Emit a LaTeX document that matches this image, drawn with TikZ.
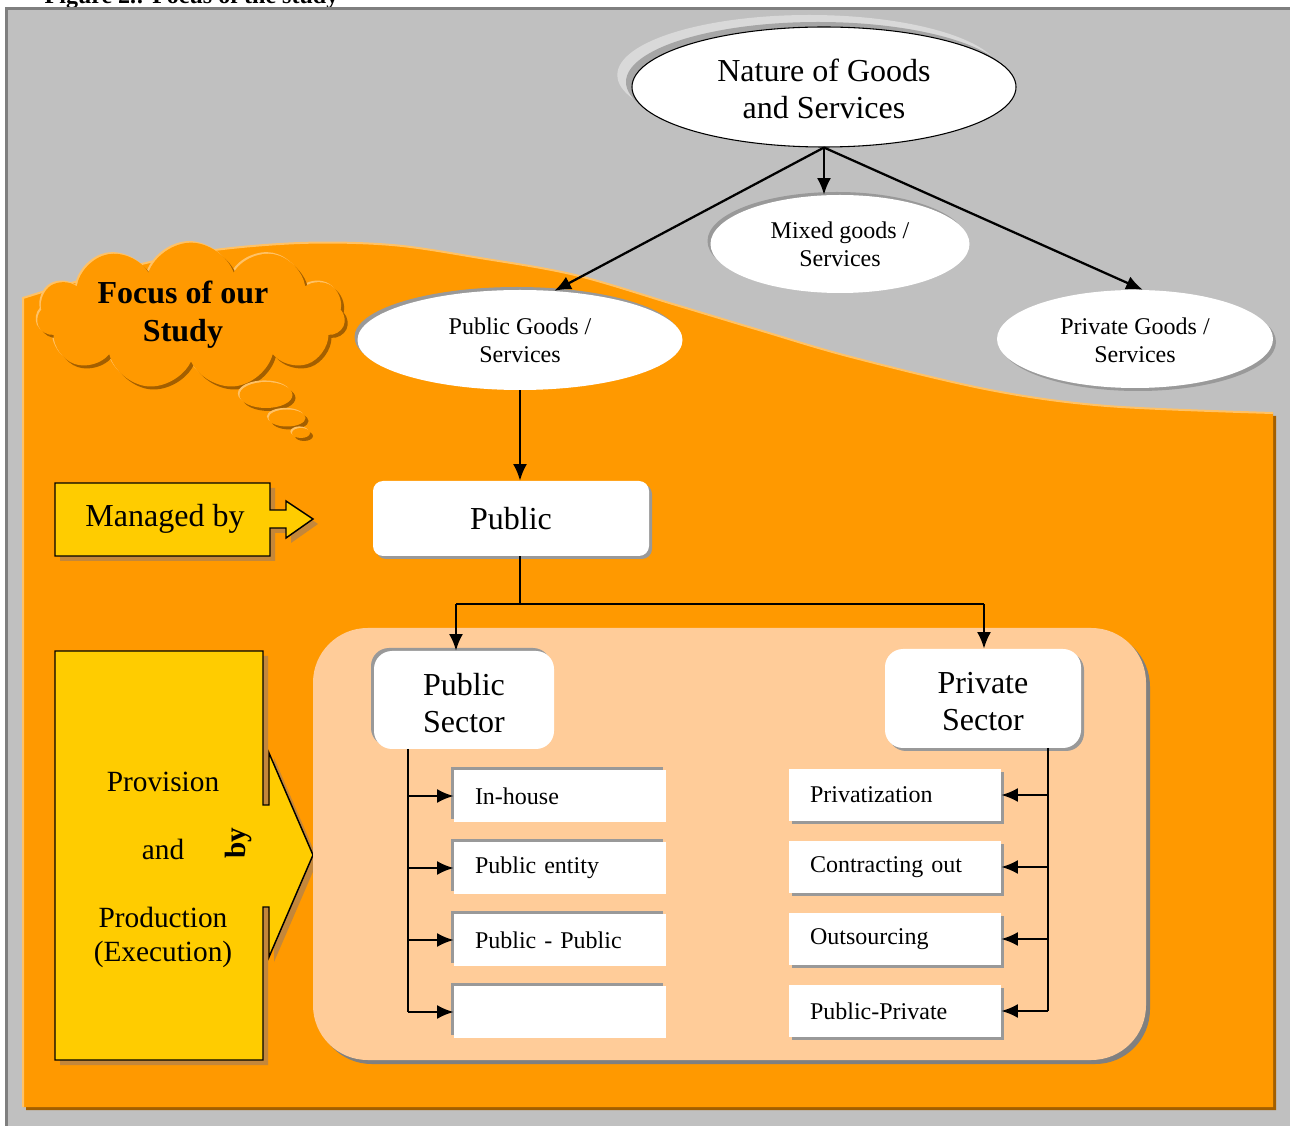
\documentclass[tikz,border=0pt]{standalone}
\usepackage{fontspec}
\setmainfont{Liberation Serif}
\usetikzlibrary{shapes.geometric,shapes.symbols,arrows.meta,shadows}

\definecolor{bggray}{HTML}{C0C0C0}
\definecolor{framegray}{HTML}{7F7F7F}
\definecolor{orangebg}{HTML}{FF9900}
\definecolor{orangehi}{HTML}{FFC266}
\definecolor{orangesh}{HTML}{A35F00}
\definecolor{yellowbox}{HTML}{FFCC00}
\definecolor{tanshadow}{HTML}{C4873A}
\definecolor{peach}{HTML}{FFCC99}
\definecolor{boxshadow}{HTML}{999999}
\definecolor{panelshadow}{HTML}{808080}
\definecolor{haze}{HTML}{D9D9D9}
\definecolor{hazedark}{HTML}{A6A6A6}

% two centred lines, lowered by #1 without changing the box size
\newcommand{\lowstack}[3]{\raisebox{#1}[\height][\depth]{\parbox{#2}{\centering #3}}}

\begin{document}
\begin{tikzpicture}[x=0.75pt, y=-0.75pt,
  conn/.style={line width=1.7pt, -{Latex[length=12.5pt,width=10.5pt]}},
  wire/.style={line width=1.7pt},
  ell/.style={ellipse, fill=white, inner sep=0pt, align=center},
  txtL/.style={font=\fontsize{24}{27.75}\selectfont},
  txtM/.style={font=\fontsize{18}{21}\selectfont},
  tlshadow/.style={general shadow={shadow xshift=-2.25pt, shadow yshift=2.25pt, fill=boxshadow}},
  rbshadow/.style={general shadow={shadow xshift=2.25pt, shadow yshift=-2.25pt, fill=boxshadow}},
  emboss/.style={general shadow={shadow xshift=-1.2pt, shadow yshift=1.2pt, fill=orangehi},
                 general shadow={shadow xshift=2.25pt, shadow yshift=-2.25pt, fill=orangesh},
                 fill=orangebg},
  sectorbox/.style={rectangle, rounded corners=13.5pt, fill=white, inner sep=0pt, align=center, txtL},
  itembox/.style={rectangle, fill=white, minimum width=159pt, minimum height=39pt,
                  inner xsep=15.75pt, inner ysep=0pt, text width=127.5pt, align=left, txtM},
  callout/.style={fill=yellowbox, draw=black, line width=1.1pt, line join=miter},
]

\useasboundingbox (0,0) rectangle (1290,1126);

% caption above the frame
\node[anchor=base west, font=\bfseries\fontsize{18}{21}\selectfont] (caption) at (40,4) {Figure 2.: Focus of the study};

% grey frame
\draw[fill=bggray, draw=framegray, line width=2.25pt] (6,9) rectangle (1294,1150);

% orange field: shadow, body, light rim
\fill[orangesh, shift={(3,3)}] plot[smooth, tension=0.55] coordinates {(23,298) (110,272) (200,252) (300,243) (392,245) (480,258) (575,275) (676,305) (759,330) (851,357) (990,390) (1107,406) (1273,413)} -- (1273,1107) -- (23,1107) -- cycle;
\fill[orangebg] plot[smooth, tension=0.55] coordinates {(23,298) (110,272) (200,252) (300,243) (392,245) (480,258) (575,275) (676,305) (759,330) (851,357) (990,390) (1107,406) (1273,413)} -- (1273,1107) -- (23,1107) -- cycle;
\draw[orangehi, line width=1.5pt] (23,1107) -- plot[smooth, tension=0.55] coordinates {(23,298) (110,272) (200,252) (300,243) (392,245) (480,258) (575,275) (676,305) (759,330) (851,357) (990,390) (1107,406) (1273,413)};

% thought cloud
\node[cloud, cloud puffs=11, cloud puff arc=140, cloud ignores aspect, minimum width=231pt, minimum height=110pt, emboss] (cloud) at (191,316) {};
\node[ellipse, minimum width=39.75pt, minimum height=19.5pt, inner sep=0pt, emboss] (bubA) at (266,395) {};
\node[ellipse, minimum width=27.75pt, minimum height=12.75pt, inner sep=0pt, emboss] (bubB) at (287,418) {};
\node[ellipse, minimum width=13.5pt, minimum height=7.5pt, inner sep=0pt, emboss] (bubC) at (301,433) {};
\node[font=\bfseries\fontsize{24}{28.5}\selectfont, align=center] (focus) at (183,315) {Focus of our\\Study};

% goods and services
\node[ell, minimum width=288pt, minimum height=90pt, draw=black, line width=0.8pt, txtL,
      general shadow={shadow xshift=-11pt, shadow yshift=9pt, fill=haze},
      general shadow={shadow xshift=-4.5pt, shadow yshift=3.75pt, fill=hazedark}] (nature) at (824,87) {\lowstack{-1.5pt}{165pt}{Nature of Goods\\and Services}};
\node[ell, minimum width=194.25pt, minimum height=73.5pt, txtM, tlshadow] (mixed) at (840,244) {Mixed goods /\\Services};
\node[ell, minimum width=243.75pt, minimum height=75pt, txtM, tlshadow] (pubgoods) at (520,340) {Public Goods /\\Services};
\node[ell, minimum width=207pt, minimum height=73.5pt, txtM, rbshadow] (privgoods) at (1135,339) {\lowstack{-1pt}{115pt}{Private Goods /\\Services}};

\draw[conn] (nature.south) -- (nature.south |- mixed.north);
\draw[conn] (nature.south) -- (pubgoods.55);
\draw[conn] (nature.south) -- (privgoods.81);

% managing body
\node[rectangle, rounded corners=7.5pt, fill=white, minimum width=207pt, minimum height=56.25pt, inner sep=0pt, txtL, rbshadow] (public) at (511,518.5) {Public};
\draw[conn] (pubgoods.south) -- (pubgoods.south |- public.north);

% yellow callouts
\fill[tanshadow, shift={(5,5)}] (55,483) -- (270,483) -- (270,510) -- (286,510) -- (286,501) -- (313,519) -- (286,538) -- (286,528) -- (270,528) -- (270,556) -- (55,556) -- cycle;
\path[callout] (55,483) -- (270,483) -- (270,510) -- (286,510) -- (286,501) -- (313,519) -- (286,538) -- (286,528) -- (270,528) -- (270,556) -- (55,556) -- cycle;
\node[txtL] (managed) at (165,519) {Managed by};

\fill[tanshadow, shift={(5,5)}] (55,651) -- (263,651) -- (263,805) -- (269,805) -- (269,753) -- (313,855) -- (269,957) -- (269,907) -- (263,907) -- (263,1060) -- (55,1060) -- cycle;
\path[callout] (55,651) -- (263,651) -- (263,805) -- (269,805) -- (269,753) -- (313,855) -- (269,957) -- (269,907) -- (263,907) -- (263,1060) -- (55,1060) -- cycle;
\node[align=center, font=\fontsize{22}{25.5}\selectfont] (provision) at (163,870) {Provision\\[25.5pt]and\\[25.5pt]Production\\(Execution)};
\node[rotate=90, font=\bfseries\fontsize{22}{26}\selectfont] (byword) at (238,843) {by};

% sector panel
\fill[panelshadow, rounded corners=41pt] (317,632) rectangle (1150,1064);
\fill[peach, rounded corners=41pt] (313,628) rectangle (1146,1060);

\node[sectorbox, minimum width=135pt, minimum height=73.5pt, tlshadow] (pubsec) at (464,700) {\lowstack{-2.25pt}{100pt}{Public\\Sector}};
\node[sectorbox, minimum width=147pt, minimum height=74.25pt, rbshadow] (privsec) at (983,698.5) {\lowstack{-2.6pt}{100pt}{Private\\Sector}};

\coordinate (split) at (520,604);
\coordinate (jl) at (456,604);
\coordinate (jr) at (984,604);
\draw[wire] (split |- public.south) -- (split);
\draw[wire] (jl) -- (jr);
\draw[conn] (jl) -- (jl |- pubsec.north);
\draw[conn] (jr) -- (jr |- privsec.north);

% public sector options
\node[itembox, tlshadow] (inhouse) at (560,796) {In-house};
\node[itembox, tlshadow] (pubentity) at (560,868) {Public entity};
\node[itembox, tlshadow] (pubpub) at (560,940) {Public - Public};
\node[itembox, tlshadow] (blank) at (560,1012) {};

\coordinate (ltrunk) at (408,749);
\draw[wire] (ltrunk) -- (ltrunk |- blank.west);
\draw[conn] (ltrunk |- inhouse.west) -- (inhouse.west);
\draw[conn] (ltrunk |- pubentity.west) -- (pubentity.west);
\draw[conn] (ltrunk |- pubpub.west) -- (pubpub.west);
\draw[conn] (ltrunk |- blank.west) -- (blank.west);

% private sector options
\node[itembox, rbshadow] (privat) at (895,795) {Privatization};
\node[itembox, rbshadow] (contract) at (895,867) {Contracting out};
\node[itembox, rbshadow] (outsrc) at (895,939) {Outsourcing};
\node[itembox, rbshadow] (ppp) at (895,1011) {Public-Private};

\coordinate (rtrunk) at (1048,748);
\draw[wire] (rtrunk) -- (rtrunk |- ppp.east);
\draw[conn] (rtrunk |- privat.east) -- (privat.east);
\draw[conn] (rtrunk |- contract.east) -- (contract.east);
\draw[conn] (rtrunk |- outsrc.east) -- (outsrc.east);
\draw[conn] (rtrunk |- ppp.east) -- (ppp.east);

\end{tikzpicture}
\end{document}
